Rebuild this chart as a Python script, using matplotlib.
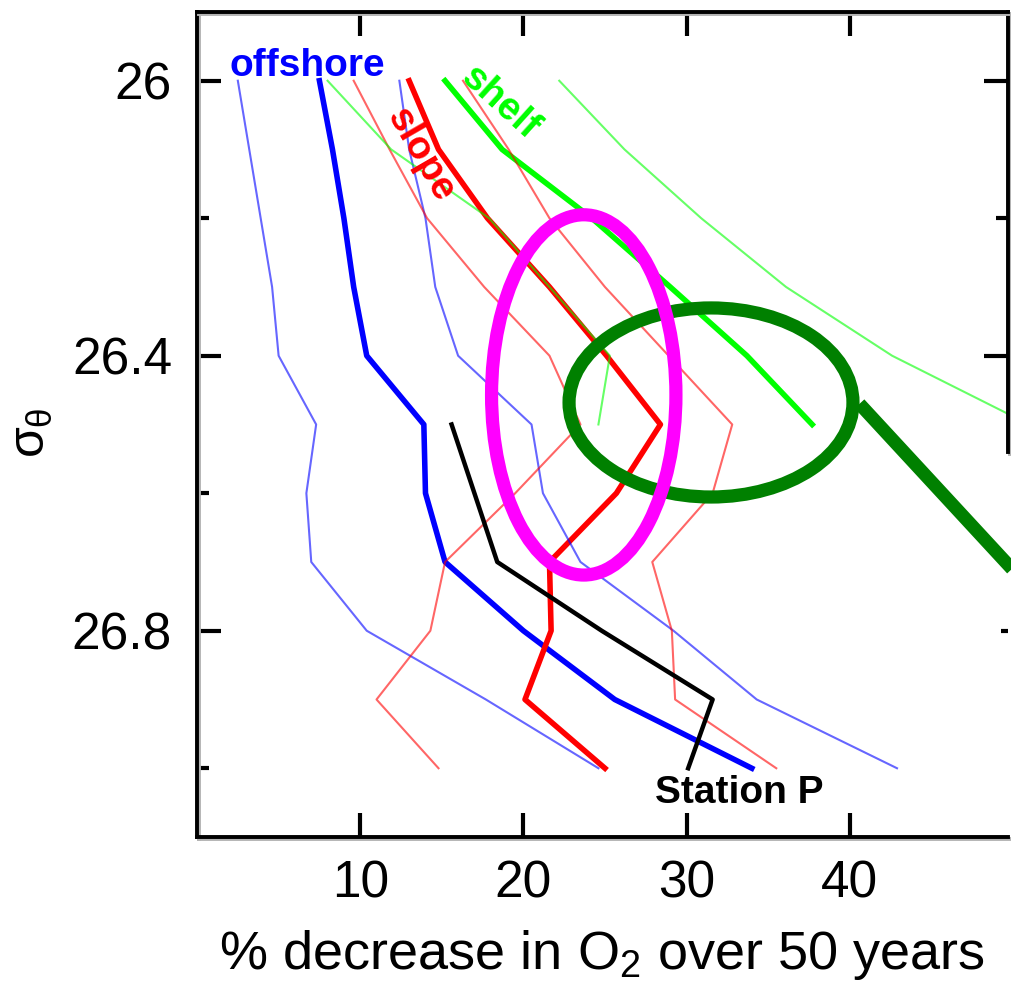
import matplotlib.pyplot as plt
import matplotlib.patheffects as pe
from matplotlib.patches import Ellipse

plt.rcParams['font.family'] = ['Liberation Sans', 'DejaVu Sans']
plt.rcParams['mathtext.fontset'] = 'custom'
plt.rcParams['mathtext.rm'] = 'Liberation Sans'
plt.rcParams['mathtext.it'] = 'Liberation Sans'

# density levels (sigma-theta)
sigma = [26.0, 26.1, 26.2, 26.3, 26.4, 26.5, 26.6, 26.7, 26.8, 26.9, 27.0]
sigma_shelf = [26.0, 26.1, 26.2, 26.3, 26.4, 26.5]
sigma_stnp = [26.5, 26.6, 26.7, 26.8, 26.9, 27.0]

# % O2 decrease over 50 years
offshore_mean = [7.5, 8.3, 9.0, 9.6, 10.4, 13.9, 14.0, 15.2, 20.0, 25.6, 34.0]
offshore_low = [2.5, 3.2, 3.9, 4.6, 5.0, 7.3, 6.7, 7.0, 10.4, 17.7, 24.6]
offshore_high = [12.4, 13.0, 14.0, 14.6, 16.0, 20.5, 21.2, 23.5, 29.2, 34.3, 42.9]

slope_mean = [13.0, 14.8, 17.8, 21.6, 25.1, 28.4, 25.7, 21.6, 21.7, 20.1, 25.0]
slope_low = [9.6, 11.8, 14.1, 17.6, 21.6, 23.5, 19.5, 15.2, 14.3, 11.0, 14.8]
slope_high = [16.3, 19.1, 21.6, 25.0, 28.9, 32.8, 31.6, 27.9, 29.1, 29.3, 35.5]

shelf_mean = [15.2, 18.7, 24.2, 29.0, 33.7, 37.7]
shelf_low = [8.0, 11.9, 17.9, 21.6, 25.3, 24.6]
shelf_high = [22.2, 26.2, 30.9, 36.1, 42.6, 51.0]

station_p = [15.6, 17.0, 18.4, 24.8, 31.6, 30.1]

fig = plt.figure(figsize=(10.11, 9.89), dpi=100)
ax = fig.add_axes([0.1949, 0.1537, 0.8021, 0.8342])

# mean profiles
ax.plot(offshore_mean, sigma, color='#0000ff', lw=4.0)
ax.plot(slope_mean, sigma, color='#ff0000', lw=4.0)
ax.plot(shelf_mean, sigma_shelf, color='#00ff00', lw=4.0)

# spread
for vals in [offshore_low, offshore_high]:
    ax.plot(vals, sigma, color='#0000ff', lw=1.5, alpha=0.6)
for vals in [slope_low, slope_high]:
    ax.plot(vals, sigma, color='#ff0000', lw=1.5, alpha=0.6)
for vals in [shelf_low, shelf_high]:
    ax.plot(vals, sigma_shelf, color='#00ff00', lw=1.5, alpha=0.6)

ax.plot(station_p, sigma_stnp, color='black', lw=3.2)

# highlight ellipses
ax.add_patch(Ellipse((31.5, 26.468), 17.4, 0.275, fill=False,
                     edgecolor='#008000', lw=9.5, zorder=5))
ax.plot([40.6, 51.5], [26.47, 26.75], color='#008000', lw=9.5,
        clip_on=False, zorder=5, solid_capstyle='butt')
ax.add_patch(Ellipse((23.7, 26.457), 11.3, 0.524, fill=False,
                     edgecolor='#ff00ff', lw=9.5, zorder=6))

ax.text(2.0, 25.993, 'offshore', color='#0000ff', fontsize=28,
        fontweight='bold', va='baseline', ha='left', zorder=7)
ax.text(13.7, 26.108, 'slope', color='#ff0000', fontsize=28,
        fontweight='bold', rotation=-60, ha='center', va='center', zorder=7)
ax.text(18.6, 26.033, 'shelf', color='#00ff00', fontsize=28,
        fontweight='bold', rotation=-42, ha='center', va='center', zorder=7)
ax.text(28.05, 27.05, 'Station P', color='black', fontsize=28,
        fontweight='bold', va='baseline', ha='left', zorder=7)

ax.set_xlim(0, 49.7)
ax.set_ylim(27.1, 25.9)
ax.set_xticks([10, 20, 30, 40])
ax.set_yticks([26.0, 26.4, 26.8])
ax.set_yticklabels(['26', '26.4', '26.8'])
ax.set_yticks([26.2, 26.6, 27.0], minor=True)

ax.tick_params(axis='both', which='major', direction='in', length=17,
               width=3, labelsize=37, top=True, right=True)
ax.tick_params(axis='x', pad=16)
ax.tick_params(axis='y', pad=18)
ax.tick_params(axis='y', which='minor', direction='in', length=8.5,
               width=3, right=True)

# right side is cut off below the green callout in the original
for t, v in zip(ax.yaxis.get_minor_ticks(), [26.2, 26.6, 27.0]):
    if v > 26.5:
        t.tick2line.set_visible(False)
for t, v in zip(ax.yaxis.get_major_ticks(), [26.0, 26.4, 26.8]):
    if v > 26.5:
        t.tick2line.set_markersize(5)

for sp in ax.spines.values():
    sp.set_linewidth(2.8)
    sp.set_path_effects([pe.SimpleLineShadow(offset=(1.5, -1.5),
                                             shadow_color='0.7', alpha=1),
                         pe.Normal()])
ax.spines['right'].set_bounds(26.54, 25.9)

ax.set_xlabel('% decrease in O$_2$ over 50 years', fontsize=39, labelpad=14)
ax.set_ylabel(r'$\sigma_\theta$', fontsize=36)
ax.yaxis.set_label_coords(-0.175, 0.49)

fig.savefig('out.png', dpi=100)
